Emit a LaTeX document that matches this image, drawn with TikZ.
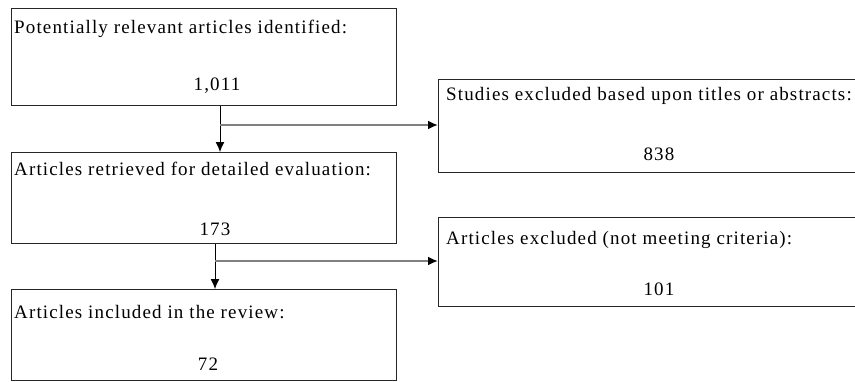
\documentclass[tikz,border=0pt]{standalone}
\usepackage{fontspec}
\setmainfont[LetterSpace=6]{Liberation Serif}
\usetikzlibrary{arrows.meta}

\tikzset{
  box/.style={draw=black!85, line width=1pt, anchor=north west, inner sep=0pt},
  txt/.style={anchor=base west, inner sep=0pt, font=\fontsize{19}{21}\selectfont},
  num/.style={anchor=base, inner sep=0pt, font=\fontsize{19}{21}\selectfont},
  side/.style={draw=black!50, line width=2.2pt, -{Latex[length=10pt,width=9pt,color=black]}},
}

\begin{document}
\begin{tikzpicture}[x=1pt, y=-1pt, >={Latex[length=10pt,width=9pt]}]
    \useasboundingbox (0,0) rectangle (855,381);
    \clip (0,0) rectangle (855,381);

    % left column
    \draw(11,8) node[box, minimum width=385pt, minimum height=97pt] (found) {};
    \draw(11,152) node[box, minimum width=385pt, minimum height=91pt] (retr) {};
    \draw(11,289) node[box, minimum width=385pt, minimum height=91pt] (incl) {};
    % right column
    \draw(438,79) node[box, minimum width=460pt, minimum height=93pt] (excl) {};
    \draw(438,217) node[box, minimum width=460pt, minimum height=89pt] (crit) {};

    \draw(14,33) node[txt] (foundt) {Potentially relevant articles identified:};
    \draw(217,90) node[num] (foundn) {1,011};
    \draw(14,175) node[txt] (retrt) {Articles retrieved for detailed evaluation:};
    \draw(215,235) node[num] (retrn) {173};
    \draw(14,318) node[txt] (inclt) {Articles included in the review:};
    \draw(208,370) node[num] (incln) {72};
    \draw(446,100) node[txt] (exclt) {Studies excluded based upon titles or abstracts:};
    \draw(659,160) node[num] (excln) {838};
    \draw(446,244) node[txt] (critt) {Articles excluded (not meeting criteria):};
    \draw(659,295) node[num] (critn) {101};

    \coordinate (s1) at (220,125);
    \coordinate (s2) at (215,261);
    \draw[->, line width=1pt] (s1 |- found.south) -- (s1 |- retr.north);
    \draw[side] (s1) -- (s1 -| excl.west);
    \draw[->, line width=1pt] (s2 |- retr.south) -- (s2 |- incl.north);
    \draw[side] (s2) -- (s2 -| crit.west);

\end{tikzpicture}
\end{document}
